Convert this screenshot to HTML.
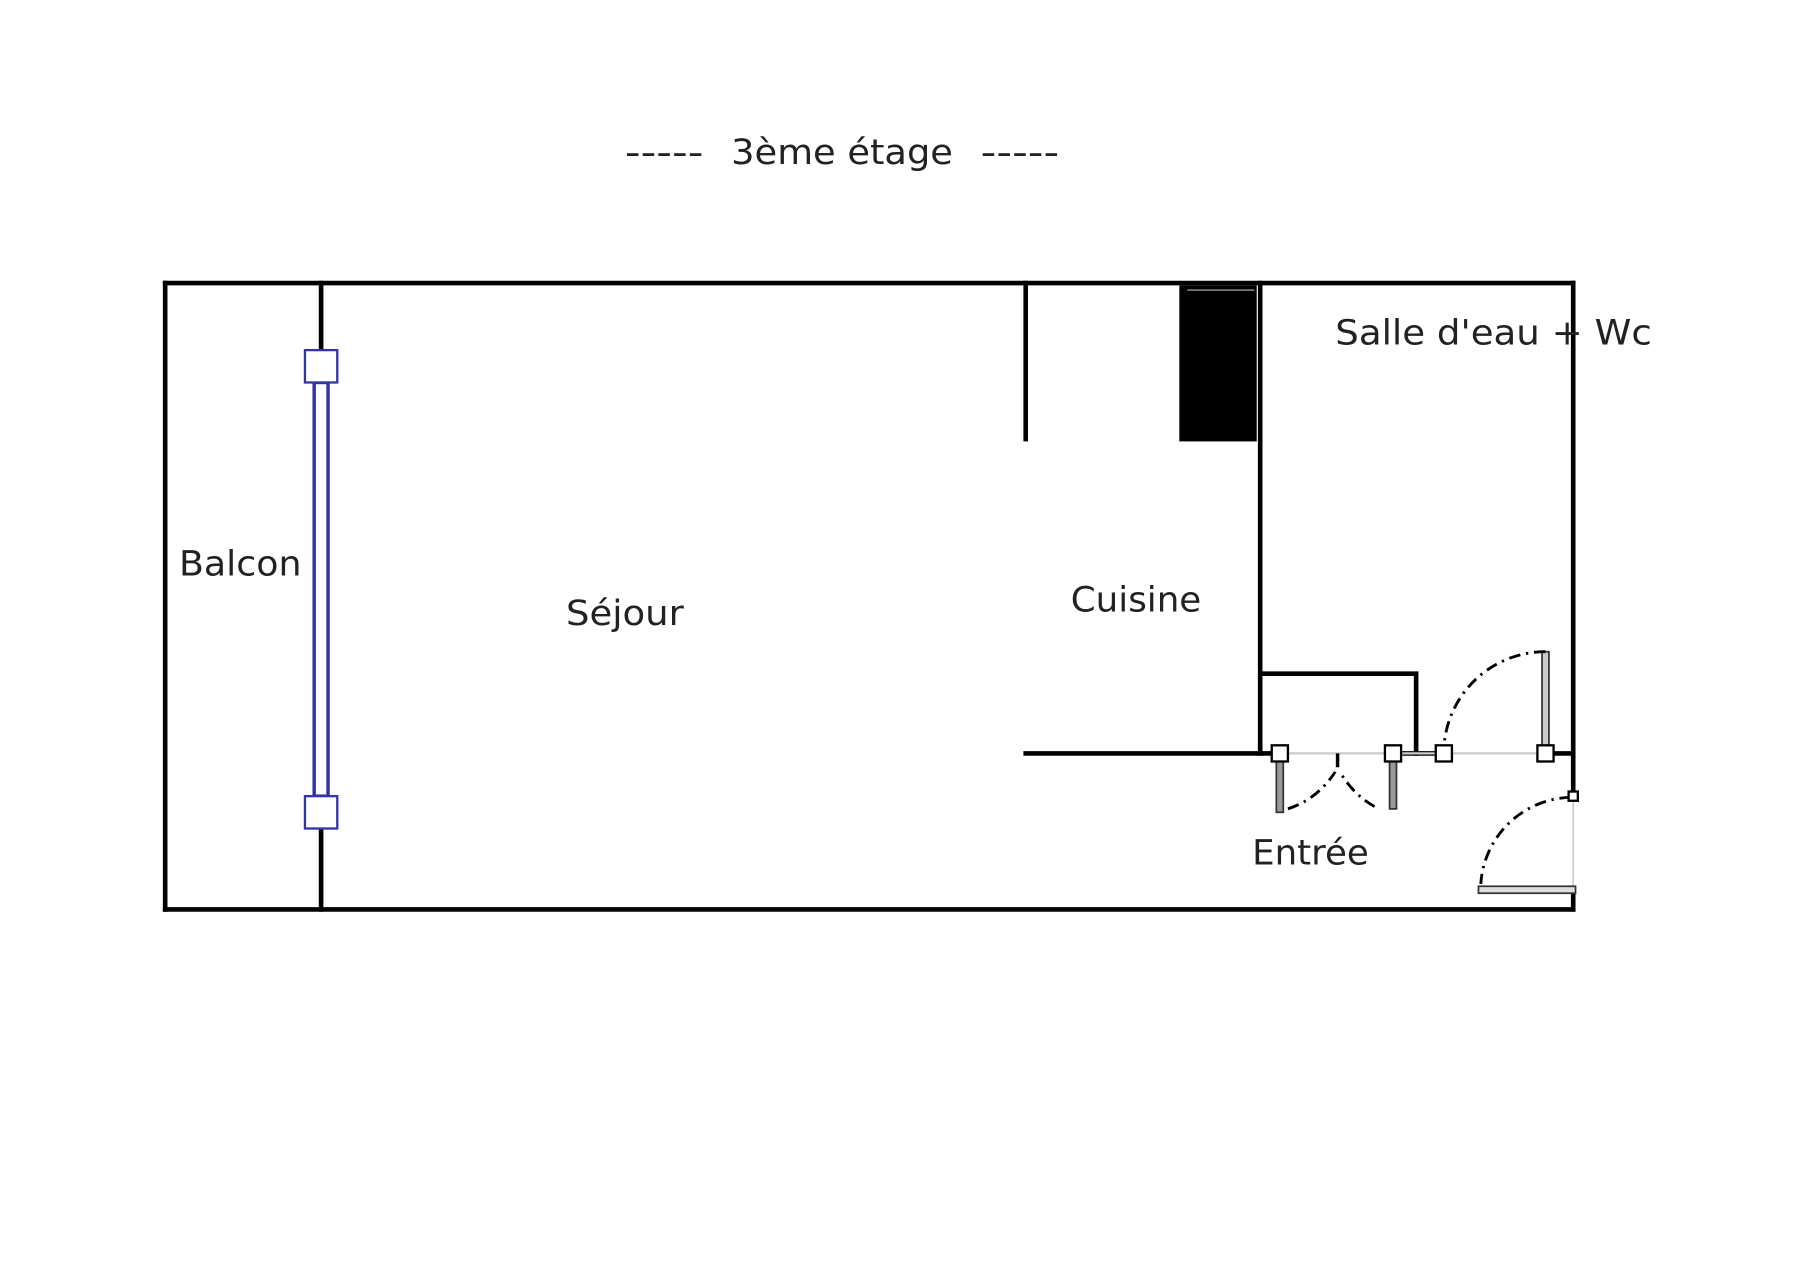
<!DOCTYPE html>
<html><head><meta charset="utf-8"><style>
html,body{margin:0;padding:0;background:#fff;}
svg{display:block;}
text{font-family:"DejaVu Sans","Liberation Sans",sans-serif;fill:#222;font-size:30px;}
</style></head><body>
<svg width="1810" height="1278" viewBox="0 0 1567 1106" preserveAspectRatio="none" xmlns="http://www.w3.org/2000/svg">
<rect width="1567" height="1106" fill="#fff"/>
<text x="541" y="142" textLength="68" lengthAdjust="spacingAndGlyphs">-----</text>
<text x="633" y="142" textLength="192" lengthAdjust="spacingAndGlyphs">3ème étage</text>
<text x="849" y="142" textLength="68" lengthAdjust="spacingAndGlyphs">-----</text>
<g stroke="#000" stroke-width="4" fill="none" stroke-linecap="square">
<line x1="143" y1="245" x2="1362" y2="245"/>
<line x1="143" y1="245" x2="143" y2="787"/>
<line x1="143" y1="787" x2="1362" y2="787"/>
<line x1="278" y1="245" x2="278" y2="317"/>
<line x1="278" y1="703" x2="278" y2="787"/>
<line x1="888" y1="245" x2="888" y2="380"/>
<line x1="1091" y1="245" x2="1091" y2="652"/>
<line x1="888" y1="652" x2="1101" y2="652"/>
<polyline points="1093,583 1226,583 1226,652"/>
<line x1="1213" y1="652" x2="1243" y2="652"/>
<line x1="1345" y1="652" x2="1362" y2="652"/>
<line x1="1362" y1="245" x2="1362" y2="688"/>
<line x1="1362" y1="772" x2="1362" y2="787"/>
</g>
<rect x="1021" y="247" width="67" height="135" fill="#000"/>
<line x1="1028" y1="251" x2="1086" y2="251" stroke="#bbb" stroke-width="1"/>
<rect x="272" y="331" width="12" height="358" fill="#fff" stroke="#3333aa" stroke-width="3"/>
<rect x="264" y="303" width="28" height="28" fill="#fff" stroke="#3333aa" stroke-width="2"/>
<rect x="264" y="689" width="28" height="28" fill="#fff" stroke="#3333aa" stroke-width="2"/>
<line x1="1108" y1="652" x2="1338" y2="652" stroke="#ccc" stroke-width="2"/>
<line x1="1362" y1="690" x2="1362" y2="772" stroke="#ccc" stroke-width="1.5"/>
<rect x="1105" y="658" width="6" height="45" fill="#999" stroke="#333" stroke-width="1.5"/>
<rect x="1203" y="658" width="6" height="42" fill="#999" stroke="#333" stroke-width="1.5"/>
<rect x="1335" y="564" width="6" height="88" fill="#ccc" stroke="#333" stroke-width="1.5"/>
<rect x="1280" y="767" width="84" height="6" fill="#ddd" stroke="#333" stroke-width="1.5"/>
<g stroke="#000" stroke-width="2.5" fill="none" stroke-dasharray="10,5,2,5">
<path d="M1115,700 Q1140,692 1156,668"/>
<path d="M1190,698 Q1172,688 1160,668"/>
<path d="M1338,564 A88 88 0 0 0 1250,648"/>
<path d="M1360,690 A80 80 0 0 0 1282,765"/>
</g>
<line x1="1158" y1="652" x2="1158" y2="664" stroke="#000" stroke-width="3"/>
<g fill="#fff" stroke="#000" stroke-width="2">
<rect x="1101" y="645" width="14" height="14"/>
<rect x="1199" y="645" width="14" height="14"/>
<rect x="1243" y="645" width="14" height="14"/>
<rect x="1331" y="645" width="14" height="14"/>
<rect x="1358" y="685" width="8" height="8"/>
</g>
<text x="155" y="498" textLength="106" lengthAdjust="spacingAndGlyphs">Balcon</text>
<text x="490" y="541" textLength="102" lengthAdjust="spacingAndGlyphs">Séjour</text>
<text x="927" y="529" textLength="113" lengthAdjust="spacingAndGlyphs">Cuisine</text>
<text x="1156" y="298" textLength="274" lengthAdjust="spacingAndGlyphs">Salle d'eau + Wc</text>
<text x="1084" y="748" textLength="101" lengthAdjust="spacingAndGlyphs">Entrée</text>
</svg>
</body></html>
